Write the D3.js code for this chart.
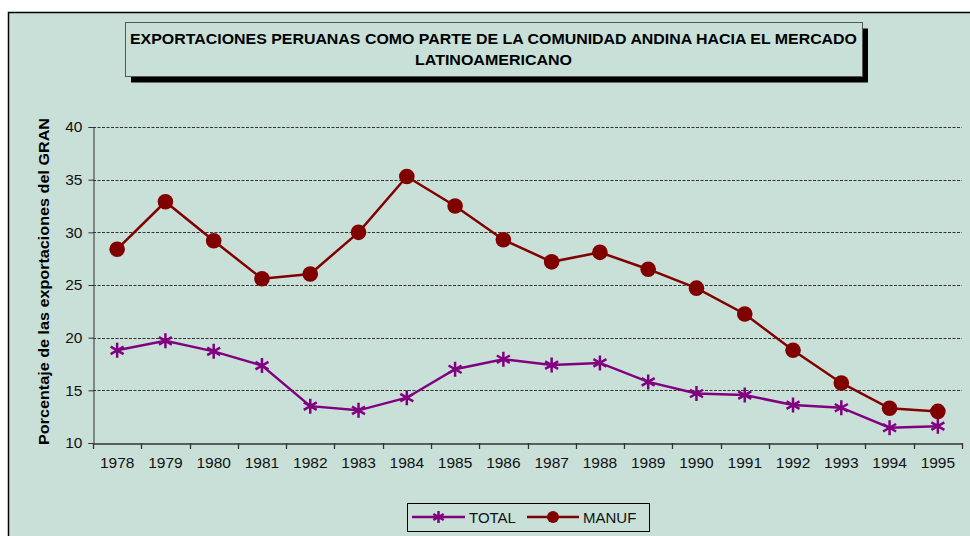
<!DOCTYPE html>
<html>
<head>
<meta charset="utf-8">
<script src="https://cdn.jsdelivr.net/npm/d3@7"></script>
<style>
  html, body { margin: 0; padding: 0; background: #ffffff; }
  svg { display: block; font-family: "Liberation Sans", Arial, sans-serif; }
</style>
</head>
<body>
<svg id="chart" width="970" height="536"></svg>
<script>
// Años y series (% de las exportaciones del GRAN)
const years = ["1978","1979","1980","1981","1982","1983","1984","1985","1986",
               "1987","1988","1989","1990","1991","1992","1993","1994","1995"];
const total = [18.8, 19.7, 18.7, 17.35, 13.5, 13.1, 14.3, 17.0, 17.95,
               17.4, 17.6, 15.8, 14.7, 14.55, 13.6, 13.35, 11.45, 11.6];
const manuf = [28.4, 32.9, 29.2, 25.6, 26.05, 30.0, 35.3, 32.5, 29.3,
               27.2, 28.1, 26.5, 24.7, 22.25, 18.8, 15.7, 13.3, 13.0];
const yTicks = [10, 15, 20, 25, 30, 35, 40];
const titleLines = ["EXPORTACIONES PERUANAS COMO PARTE DE LA COMUNIDAD ANDINA HACIA EL MERCADO",
                    "LATINOAMERICANO"];
const yTitle = "Porcentaje de las exportaciones del GRAN";
const seriesNames = ["TOTAL", "MANUF"];

const BG = "rgb(201,224,216)";
const C_TOTAL = "#800080";
const C_MANUF = "#800000";

const svg = d3.select("#chart");

// Área del gráfico
svg.append("rect").attr("x", 8.5).attr("y", 12.5).attr("width", 980).attr("height", 540)
  .attr("fill", BG).attr("stroke", "#000").attr("stroke-width", 1.5);

const plot = { left: 93, right: 962, top: 127, bottom: 443 };

const x = d3.scaleBand().domain(years).range([plot.left, plot.right]).padding(0);
const y = d3.scaleLinear().domain([10, 40]).range([plot.bottom, plot.top]);

// Líneas de división
svg.append("g").selectAll("line").data(yTicks.filter(d => d > 10)).join("line")
  .attr("x1", plot.left).attr("x2", plot.right)
  .attr("y1", d => Math.round(y(d)) + 0.5).attr("y2", d => Math.round(y(d)) + 0.5)
  .attr("stroke", "#333").attr("stroke-width", 1).attr("stroke-dasharray", "3,1.5");

// Eje Y
const yAxis = svg.append("g").attr("transform", `translate(${plot.left + 0.5},0)`)
  .call(d3.axisLeft(y).tickValues(yTicks).tickSize(5).tickPadding(6));
yAxis.select(".domain").attr("stroke", "#333");
yAxis.selectAll(".tick line").attr("stroke", "#333");
yAxis.selectAll("text").attr("font-size", 15.5).attr("fill", "#111")
  .attr("font-family", "Liberation Sans, Arial, sans-serif");

// Eje X con marcas entre categorías
const xAxis = svg.append("g").attr("transform", `translate(0,${plot.bottom + 0.5})`)
  .call(d3.axisBottom(x).tickSize(0).tickPadding(13));
xAxis.select(".domain").attr("stroke", "#333").attr("stroke-width", 1.3);
xAxis.selectAll("text").attr("font-size", 15.5).attr("fill", "#111")
  .attr("font-family", "Liberation Sans, Arial, sans-serif");
const boundaries = years.map(d => x(d)).concat([x(years[years.length - 1]) + x.bandwidth()]);
svg.append("g").selectAll("line").data(boundaries).join("line")
  .attr("x1", d => Math.round(d) + 0.5).attr("x2", d => Math.round(d) + 0.5)
  .attr("y1", plot.bottom).attr("y2", plot.bottom + 6)
  .attr("stroke", "#333").attr("stroke-width", 1.3);

// Título del eje Y
svg.append("text")
  .attr("transform", `translate(49,${(118 + 445) / 2}) rotate(-90)`)
  .attr("text-anchor", "middle").attr("font-size", 15.5).attr("font-weight", "bold")
  .attr("textLength", 327).attr("lengthAdjust", "spacingAndGlyphs")
  .attr("fill", "#000").text(yTitle);

// Series
const cx = (d, i) => x(years[i]) + x.bandwidth() / 2;
const line = d3.line().x((d, i) => cx(d, i)).y(d => y(d));

function starPath(r) {
  const a = r * Math.sin(Math.PI / 3), b = r * Math.cos(Math.PI / 3);
  return `M0,${-r}L0,${r}M${-a},${-b}L${a},${b}M${-a},${b}L${a},${-b}`;
}

svg.append("path").datum(total).attr("d", line)
  .attr("fill", "none").attr("stroke", C_TOTAL).attr("stroke-width", 2.5);
svg.append("path").datum(manuf).attr("d", line)
  .attr("fill", "none").attr("stroke", C_MANUF).attr("stroke-width", 2.5);

svg.append("g").selectAll("path").data(total).join("path")
  .attr("transform", (d, i) => `translate(${cx(d, i)},${y(d)})`)
  .attr("d", starPath(7.5)).attr("stroke", C_TOTAL).attr("stroke-width", 2.5).attr("fill", "none");

svg.append("g").selectAll("circle").data(manuf).join("circle")
  .attr("cx", (d, i) => cx(d, i)).attr("cy", d => y(d)).attr("r", 7.8)
  .attr("fill", C_MANUF);

// Título con sombra
const tb = { x: 125, y: 22.5, w: 737, h: 54 };
const titleWidths = [727, 157];
svg.append("rect").attr("x", tb.x + 6).attr("y", tb.y + 6).attr("width", tb.w).attr("height", tb.h)
  .attr("fill", "#000");
svg.append("rect").attr("x", tb.x + 0.5).attr("y", tb.y).attr("width", tb.w).attr("height", tb.h)
  .attr("fill", BG).attr("stroke", "#555").attr("stroke-width", 1);
svg.append("g").selectAll("text").data(titleLines).join("text")
  .attr("x", tb.x + tb.w / 2).attr("y", (d, i) => 44 + i * 21)
  .attr("text-anchor", "middle").attr("font-size", 14.5).attr("font-weight", "bold")
  .attr("textLength", (d, i) => titleWidths[i]).attr("lengthAdjust", "spacingAndGlyphs")
  .attr("fill", "#000").text(d => d);

// Leyenda
const lg = svg.append("g");
lg.append("rect").attr("x", 407.5).attr("y", 503.5).attr("width", 242).attr("height", 28)
  .attr("fill", BG).attr("stroke", "#000").attr("stroke-width", 1);
const ly = 517;
const items = [
  { name: seriesNames[0], color: C_TOTAL, x0: 412, x1: 465, tx: 469, mark: "star" },
  { name: seriesNames[1], color: C_MANUF, x0: 527, x1: 579, tx: 583, mark: "circle" }
];
items.forEach(it => {
  lg.append("line").attr("x1", it.x0).attr("x2", it.x1).attr("y1", ly).attr("y2", ly)
    .attr("stroke", it.color).attr("stroke-width", 2.5);
  const mx = (it.x0 + it.x1) / 2;
  if (it.mark === "star") {
    lg.append("path").attr("transform", `translate(${mx},${ly})`).attr("d", starPath(6))
      .attr("stroke", it.color).attr("stroke-width", 2.5).attr("fill", "none");
  } else {
    lg.append("circle").attr("cx", mx).attr("cy", ly).attr("r", 6).attr("fill", it.color);
  }
  lg.append("text").attr("x", it.tx).attr("y", ly + 5.5).attr("font-size", 15)
    .attr("fill", "#111").text(it.name);
});
</script>
</body>
</html>
